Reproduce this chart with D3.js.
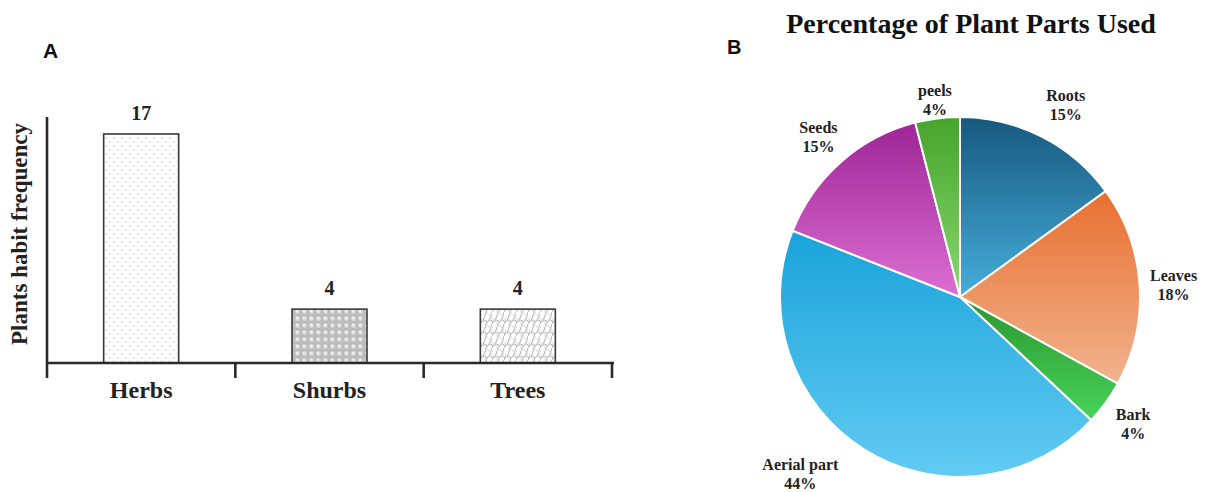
<!DOCTYPE html>
<html>
<head>
<meta charset="utf-8">
<script src="https://cdn.jsdelivr.net/npm/d3@7"></script>
<style>
  html, body { margin: 0; padding: 0; background: #fff; }
  svg { display: block; }
</style>
</head>
<body>
<svg id="chart" width="1210" height="492"></svg>
<script>
// ---------- DATA ----------
const habitCategories = ["Herbs", "Shurbs", "Trees"];
const habitValues = [17, 4, 4];
const habitAxisLabel = "Plants habit frequency";

const partNames = ["Roots", "Leaves", "Bark", "Aerial part", "Seeds", "peels"];
const partPercents = [15, 18, 4, 44, 15, 4];
const pieTitle = "Percentage of Plant Parts Used";

// ---------- SETUP ----------
const svg = d3.select("#chart");
const defs = svg.append("defs");
const serif = "'Liberation Serif', 'Times New Roman', serif";
const sans = "'Liberation Sans', Arial, sans-serif";

// Patterns for bars
const pDots = defs.append("pattern").attr("id", "pat0").attr("patternUnits", "userSpaceOnUse")
  .attr("width", 8).attr("height", 8);
pDots.append("rect").attr("width", 8).attr("height", 8).attr("fill", "#fff");
pDots.append("circle").attr("cx", 2).attr("cy", 2).attr("r", 0.8).attr("fill", "#b0b0b0");
pDots.append("circle").attr("cx", 6).attr("cy", 6).attr("r", 0.8).attr("fill", "#c8c8c8");

const pBub = defs.append("pattern").attr("id", "pat1").attr("patternUnits", "userSpaceOnUse")
  .attr("width", 7).attr("height", 7);
pBub.append("rect").attr("width", 7).attr("height", 7).attr("fill", "#bcbcbc");
pBub.append("circle").attr("cx", 3.5).attr("cy", 3.5).attr("r", 2.7).attr("fill", "#dedede").attr("stroke", "#a8a8a8").attr("stroke-width", 0.5);
pBub.append("circle").attr("cx", 2.8).attr("cy", 2.8).attr("r", 1).attr("fill", "#f7f7f7");

const pWave = defs.append("pattern").attr("id", "pat2").attr("patternUnits", "userSpaceOnUse")
  .attr("width", 12).attr("height", 12);
pWave.append("rect").attr("width", 12).attr("height", 12).attr("fill", "#fff");
pWave.append("path").attr("d", "M0,12 Q3,6 6,9 T12,0 M-6,12 Q-3,6 0,9 T6,0 M6,12 Q9,6 12,9 T18,0")
  .attr("fill", "none").attr("stroke", "#bdbdbd").attr("stroke-width", 1.1);
pWave.append("path").attr("d", "M0,6 L6,12 M6,0 L12,6")
  .attr("fill", "none").attr("stroke", "#d0d0d0").attr("stroke-width", 0.9);

// ---------- BAR CHART (A) ----------
const axisX0 = 47, axisX1 = 612, baseY = 363, topY = 117;
const x = d3.scaleBand().domain(habitCategories).range([axisX0, axisX1]).paddingInner(0).paddingOuter(0);
const y = d3.scaleLinear().domain([0, 18.26]).range([baseY, topY]);
const barW = 75;

const gA = svg.append("g");

gA.append("text").attr("x", 43).attr("y", 58).attr("font-family", sans).attr("font-weight", "bold")
  .attr("font-size", 21).attr("fill", "#111").text("A");

// bars
gA.selectAll("rect.bar").data(habitValues).join("rect")
  .attr("class", "bar")
  .attr("x", (d, i) => x(habitCategories[i]) + x.bandwidth() / 2 - barW / 2)
  .attr("y", d => y(d))
  .attr("width", barW)
  .attr("height", d => baseY - y(d))
  .attr("fill", (d, i) => `url(#pat${i})`)
  .attr("stroke", "#3a3a3a")
  .attr("stroke-width", 1.6);

// value labels
gA.selectAll("text.val").data(habitValues).join("text")
  .attr("class", "val")
  .attr("x", (d, i) => x(habitCategories[i]) + x.bandwidth() / 2)
  .attr("y", d => y(d) - 14)
  .attr("text-anchor", "middle")
  .attr("font-family", serif).attr("font-weight", "bold").attr("font-size", 20)
  .attr("fill", "#222")
  .text(d => d);

// x axis
const xAxis = d3.axisBottom(x).tickSize(0).tickPadding(18);
const gx = gA.append("g").attr("transform", `translate(0,${baseY})`).call(xAxis);
gx.select(".domain").remove();
gx.selectAll("text").attr("font-family", serif).attr("font-weight", "bold").attr("font-size", 24).attr("fill", "#222");
gA.append("line").attr("x1", axisX0 - 1).attr("x2", axisX1 + 2).attr("y1", baseY).attr("y2", baseY)
  .attr("stroke", "#2a2a2a").attr("stroke-width", 2.6);
const boundaries = habitCategories.map(c => x(c)).concat([x.range()[1]]);
gA.selectAll("line.btick").data(boundaries).join("line").attr("class", "btick")
  .attr("x1", d => d).attr("x2", d => d).attr("y1", baseY).attr("y2", baseY + 15)
  .attr("stroke", "#2a2a2a").attr("stroke-width", 2.6);

// y axis
gA.append("line").attr("x1", axisX0).attr("x2", axisX0).attr("y1", y.range()[1]).attr("y2", baseY)
  .attr("stroke", "#2a2a2a").attr("stroke-width", 2.6);
gA.append("text")
  .attr("transform", `translate(27,234) rotate(-90)`)
  .attr("text-anchor", "middle")
  .attr("font-family", serif).attr("font-weight", "bold").attr("font-size", 23).attr("fill", "#222")
  .text(habitAxisLabel);

// ---------- PIE CHART (B) ----------
const cx = 960, cy = 297, R = 180;
const gB = svg.append("g");

gB.append("text").attr("x", 727).attr("y", 54).attr("font-family", sans).attr("font-weight", "bold")
  .attr("font-size", 20).attr("fill", "#111").text("B");

gB.append("text").attr("x", 971).attr("y", 33).attr("text-anchor", "middle")
  .attr("font-family", serif).attr("font-weight", "bold").attr("font-size", 28).attr("fill", "#111")
  .text(pieTitle);

const gradStops = [
  ["#17587d", "#46aedc"],
  ["#e86f30", "#f2b48e"],
  ["#2a952f", "#48d45a"],
  ["#1aa3d9", "#62cbf3"],
  ["#9e2596", "#dc6fd3"],
  ["#46a42c", "#8ad770"]
];
gradStops.forEach((c, i) => {
  const g = defs.append("linearGradient").attr("id", "grad" + i)
    .attr("x1", 0).attr("y1", 0).attr("x2", 0).attr("y2", 1);
  g.append("stop").attr("offset", "0%").attr("stop-color", c[0]);
  g.append("stop").attr("offset", "100%").attr("stop-color", c[1]);
});

const pie = d3.pie().sort(null).value(d => d);
const arcs = pie(partPercents);
const arc = d3.arc().innerRadius(0).outerRadius(R);
// label placement tweaks (styling only)
const labelR = { "Aerial part": 238, "peels": 200, "Roots": 220, "Leaves": 214 };
const labelDA = { "Aerial part": 0.17, "Roots": 0.03, "Leaves": 0.0 };
const pg = gB.append("g").attr("transform", `translate(${cx},${cy})`);

pg.selectAll("path").data(arcs).join("path")
  .attr("d", arc)
  .attr("fill", (d, i) => `url(#grad${i})`)
  .attr("stroke", "#fff").attr("stroke-width", 2);

const labels = pg.selectAll("g.lab").data(arcs).join("g").attr("class", "lab")
  .attr("transform", (d, i) => {
    const name = partNames[i];
    const a = (d.startAngle + d.endAngle) / 2 + (labelDA[name] || 0);
    const r = labelR[name] || 214;
    return `translate(${r * Math.sin(a)},${-r * Math.cos(a)})`;
  });
labels.append("text").attr("text-anchor", "middle").attr("y", -3)
  .attr("font-family", serif).attr("font-weight", "bold").attr("font-size", 16).attr("fill", "#222")
  .text((d, i) => partNames[i]);
labels.append("text").attr("text-anchor", "middle").attr("y", 16)
  .attr("font-family", serif).attr("font-weight", "bold").attr("font-size", 16).attr("fill", "#222")
  .text(d => d.data + "%");
</script>
</body>
</html>
